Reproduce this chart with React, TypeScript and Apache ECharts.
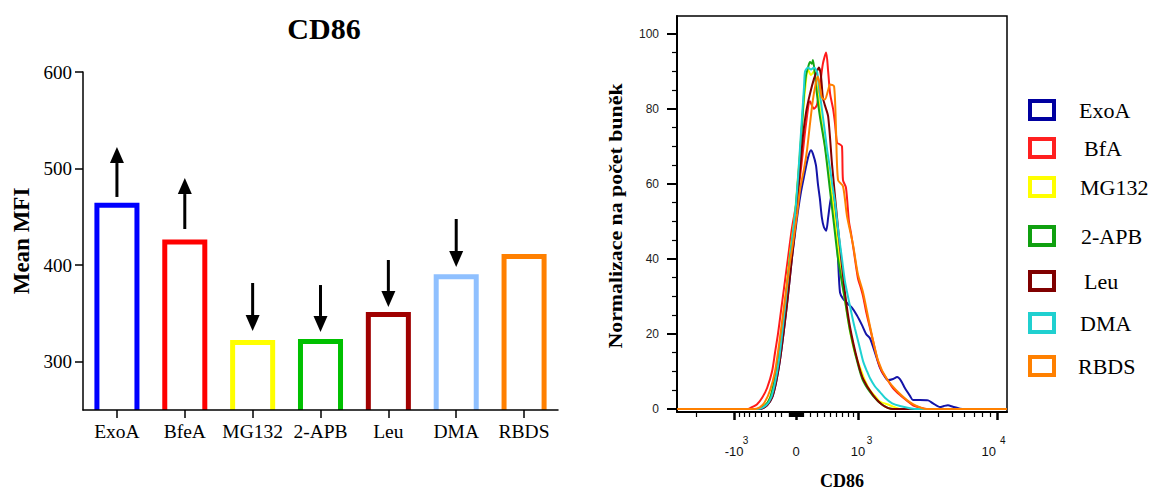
import React, { useEffect, useRef } from "react";
import * as echarts from "echarts";

// ---------- Left panel: Mean MFI of CD86 ----------
const barCategories = ["ExoA", "BfeA", "MG132", "2-APB", "Leu", "DMA", "RBDS"];
const barValues = [462, 424, 320, 321, 349, 388, 409];
const barColors = ["#0000ff", "#ff0000", "#ffff00", "#00c000", "#a00000", "#8fc0ff", "#ff8000"];
const barYMin = 250;
const barYMax = 600;
const barYTicks = [300, 400, 500, 600];
// [category index, arrow start value, arrow tip value]
const arrowData = [
  [0, 470.6, 522.3],
  [1, 437.4, 490.2],
  [2, 381.5, 331.8],
  [3, 379.4, 330.8],
  [4, 405.3, 356.7],
  [5, 447.8, 398.1],
];

// ---------- Right panel: CD86 histograms (x = display channel 0..1000, y = % of max) ----------
const histNames = ["ExoA", "BfA", "MG132", "2-APB", "Leu", "DMA", "RBDS"];
const histColors = ["#1414a8", "#ff1a1a", "#ffff00", "#14a514", "#800000", "#1ed2d2", "#ff8000"];
const legendColors = ["#0000a0", "#ff2020", "#ffff00", "#10a010", "#800000", "#20d0d0", "#ff8000"];

const histExoA = [[0,0],[252,0],[273,1],[288,3],[300,7],[312,13],[324,21],[336,30],[348,40],[358,47],[367,53],[376,58],[385,62],[397,67],[406,69],[412,68],[421,65],[427,60],[433,56],[439,51],[445,48.5],[452,47.5],[458,51],[464,55],[470,57.5],[476,55],[482,50],[488,40],[494,31],[503,29.4],[518,28],[530,27],[545,25],[561,22.3],[573,20],[585,18.8],[600,15],[615,11],[627,9],[639,7.7],[655,8],[667,8.5],[679,7.5],[691,5.5],[706,3.5],[715,2.4],[736,2.4],[761,2.3],[776,1.5],[797,0.5],[809,0.8],[821,1],[836,0.6],[858,0.1],[873,0],[1000,0]];
const histBfA = [[0,0],[215,0],[227,0.5],[242,1.2],[258,3],[273,5.6],[288,10],[297,15],[306,20],[315,26],[324,32],[336,40],[348,48],[358,53],[364,56],[373,62],[382,69],[391,76],[403,82],[415,80],[424,81],[433,86],[442,92],[452,95],[458,90],[464,84],[473,80],[479,76],[485,71],[494,70.5],[500,70],[503,61],[512,59],[521,50],[527,47],[536,42],[548,35],[558,32],[564,30],[573,26],[585,21.5],[597,17],[609,12.7],[621,10],[636,8],[655,5.5],[676,3.7],[697,2.2],[715,1],[736,0.4],[758,0],[1000,0]];
const histMG132 = [[0,0],[242,0],[267,1],[282,3],[294,7],[306,13],[318,22],[330,31],[342,41],[355,50],[364,59],[373,69],[379,76],[388,85],[397,90.5],[406,89],[415,90],[424,86],[433,80],[442,74],[452,68],[461,62],[470,57],[479,50],[488,43],[497,36],[509,29],[524,21],[539,15],[555,11],[570,7.5],[585,5],[600,3.5],[615,2],[645,1],[676,0],[1000,0]];
const hist2APB = [[0,0],[242,0],[267,1],[282,3],[294,7],[306,13],[318,21],[330,30],[342,40],[355,49],[364,58],[373,68],[379,76],[385,84],[391,89],[397,91],[403,92.5],[409,92],[412,93],[418,89],[424,84],[433,78],[448,70],[464,58],[476,49],[488,40],[509,29],[524,21],[548,12],[564,7.5],[594,3.5],[624,1],[655,0],[1000,0]];
const histLeu = [[0,0],[252,0],[273,1],[288,3],[300,7],[312,13],[324,21],[336,30],[348,40],[358,48],[367,58],[373,64],[382,73],[391,79],[403,84],[415,88],[424,90],[430,91],[436,89],[442,83],[448,81],[458,78],[470,65],[485,51],[494,43],[509,31],[524,22],[548,12.5],[564,8],[594,3.7],[624,1],[655,0],[1000,0]];
const histDMA = [[0,0],[245,0],[270,1],[285,3],[297,7],[309,13],[321,22],[333,32],[345,42],[358,52],[367,62],[373,70],[379,78],[385,86],[388,90],[397,91],[406,90.5],[415,91],[424,90],[430,86],[439,80],[448,74],[455,69],[464,64],[470,60],[479,55],[488,48],[500,40],[509,34],[518,30],[530,25],[539,21.5],[552,17],[564,12.7],[576,10],[585,8.2],[600,6],[615,4.5],[630,3],[652,1.5],[676,0.8],[721,0],[1000,0]];
const histRBDS = [[0,0],[236,0],[252,0.5],[267,2],[282,5],[297,10],[309,17],[321,25],[333,33],[342,39],[352,44.5],[364,52],[373,58.6],[385,64],[394,69],[403,76],[412,82.5],[421,87],[427,88.6],[433,86],[439,83],[448,82.5],[458,85],[464,86.5],[476,86],[482,74],[488,61],[503,59.4],[515,51.5],[533,44],[548,36],[564,31],[585,22],[609,13],[636,8],[676,4],[715,1.3],[758,0],[1000,0]];
const histData = [histExoA, histBfA, histMG132, hist2APB, histLeu, histDMA, histRBDS];

const histYMin = -0.8;
const histYMax = 104.75;
const histYMajor = [0, 20, 40, 60, 80, 100];
const histYMinor = [5, 10, 15, 25, 30, 35, 45, 50, 55, 65, 70, 75, 85, 90, 95];
const cd86Major = [-1000, 0, 1000, 10000];
const cd86MajorLabels = ["{s|3}\n{m|-10}", "{s| }\n{m|0}", "{s|3}\n{m|10}", "{s4|4}\n{m4|10}"];
const cd86Minor = [-2000, -900, -800, -700, -600, -500, -400, -300, -200, -100, -90, -80, -70, -60, -50, -40, -30, -20, -10, 10, 20, 30, 40, 50, 60, 70, 80, 90, 100, 200, 300, 400, 500, 600, 700, 800, 900, 2000, 3000, 4000, 5000, 6000, 7000, 8000, 9000];

// biexponential-like display transform: CD86 intensity -> display channel
const toChannel = (v: number) => 360.6 + 196.1 * Math.asinh(v / 900);

const SERIF = "'Liberation Serif', 'Times New Roman', serif";
const SANS = "'Liberation Sans', Arial, sans-serif";

const legendCenters = [112, 150, 189, 238, 283, 325, 368];
const legendTextPad = [20, 25, 21, 22, 25, 21, 19];

export default function App() {
  const ref = useRef<HTMLDivElement>(null);
  useEffect(() => {
    if (!ref.current) return;
    const chart = echarts.init(ref.current, undefined, { renderer: "svg" });
    const majorCh = cd86Major.map(toChannel);
    const minorCh = cd86Minor.map(toChannel);

    const option: any = {
      animation: false,
      backgroundColor: "#fff",
      title: {
        text: "CD86",
        left: 319,
        top: 8,
        textAlign: "center",
        textStyle: { fontFamily: SERIF, fontWeight: "bold", fontSize: 30, color: "#000" },
      },
      grid: [
        { left: 83, right: 596, top: 72, bottom: 85 },
        { left: 677, right: 147, top: 16, bottom: 79, show: true, borderColor: "#000", borderWidth: 1.5, backgroundColor: "transparent" },
      ],
      xAxis: [
        {
          type: "category",
          gridIndex: 0,
          data: barCategories,
          boundaryGap: true,
          axisLine: { show: true, lineStyle: { color: "#000", width: 1.5 } },
          axisTick: { show: true, alignWithLabel: true, length: 8, lineStyle: { color: "#000", width: 1.5 } },
          axisLabel: { interval: 0, hideOverlap: false, fontFamily: SERIF, fontSize: 19.5, color: "#000", margin: 11 },
          splitLine: { show: false },
          z: 5,
        },
        {
          type: "value",
          gridIndex: 1,
          min: 0,
          max: 1000,
          position: "bottom",
          name: "CD86",
          nameLocation: "middle",
          nameGap: 60,
          nameTextStyle: { fontFamily: SERIF, fontWeight: "bold", fontSize: 18, color: "#000" },
          axisLine: { show: true, onZero: false, lineStyle: { color: "#000", width: 2 } },
          axisTick: { show: true, length: 8, customValues: majorCh, lineStyle: { color: "#000", width: 2.5 } },
          axisLabel: {
            show: true,
            margin: 24,
            customValues: majorCh,
            color: "#111",
            fontFamily: SANS,
            formatter: (val: number) => {
              let best = 0;
              for (let i = 1; i < majorCh.length; i++) if (Math.abs(majorCh[i] - val) < Math.abs(majorCh[best] - val)) best = i;
              return cd86MajorLabels[best];
            },
            rich: {
              s: { fontSize: 10, lineHeight: 8, fontFamily: SANS, color: "#111", padding: [0, 0, 0, 23] },
              m: { fontSize: 13, lineHeight: 14, fontFamily: SANS, color: "#111" },
              s4: { fontSize: 10, lineHeight: 8, fontFamily: SANS, color: "#111", padding: [0, 0, 0, 12] },
              m4: { fontSize: 13, lineHeight: 14, fontFamily: SANS, color: "#111", padding: [0, 16, 0, 0] },
            },
          },
          splitLine: { show: false },
        },
        {
          type: "value",
          gridIndex: 1,
          min: 0,
          max: 1000,
          position: "bottom",
          axisLine: { show: false, onZero: false },
          axisTick: { show: true, length: 5, customValues: minorCh, lineStyle: { color: "#000", width: 1.2 } },
          axisLabel: { show: false },
          splitLine: { show: false },
        },
      ],
      yAxis: [
        {
          type: "value",
          gridIndex: 0,
          min: barYMin,
          max: barYMax,
          name: "Mean MFI",
          nameLocation: "middle",
          nameGap: 50,
          nameRotate: 90,
          nameTextStyle: { fontFamily: SERIF, fontWeight: "bold", fontSize: 23, color: "#000" },
          axisLine: { show: true, lineStyle: { color: "#000", width: 1.5 } },
          axisTick: { show: true, length: 8, customValues: barYTicks, lineStyle: { color: "#000", width: 1.5 } },
          axisLabel: { customValues: barYTicks, fontFamily: SERIF, fontSize: 19, color: "#000", margin: 11 },
          splitLine: { show: false },
        },
        {
          type: "value",
          gridIndex: 1,
          min: histYMin,
          max: histYMax,
          position: "left",
          axisLine: { show: true, onZero: false, lineStyle: { color: "#000", width: 2 } },
          axisTick: { show: true, length: 10, customValues: histYMajor, lineStyle: { color: "#000", width: 2 } },
          axisLabel: { customValues: histYMajor, fontFamily: SANS, fontSize: 12, color: "#222", margin: 18 },
          splitLine: { show: false },
        },
        {
          type: "value",
          gridIndex: 1,
          min: histYMin,
          max: histYMax,
          position: "left",
          axisLine: { show: false, onZero: false },
          axisTick: { show: true, length: 5, customValues: histYMinor, lineStyle: { color: "#000", width: 1.2 } },
          axisLabel: { show: false },
          splitLine: { show: false },
        },
      ],
      legend: histNames.map((n, i) => ({
        data: [n],
        left: 1028,
        top: legendCenters[i] - 13,
        padding: 0,
        icon: "rect",
        itemWidth: 24,
        itemHeight: 18,
        selectedMode: false,
        itemStyle: { color: "#fff", borderColor: legendColors[i], borderWidth: 4 },
        formatter: "{t|{name}}",
        textStyle: {
          rich: { t: { fontFamily: SERIF, fontSize: 22, color: "#000", padding: [0, 0, 0, legendTextPad[i]] } },
        },
      })),
      graphic: [
        {
          type: "text",
          x: 616,
          y: 216,
          rotation: Math.PI / 2,
          scaleX: 1.15,
          style: {
            text: "Normalizace na počet buněk",
            font: `bold 19px ${SERIF}`,
            fill: "#000",
            align: "center",
            verticalAlign: "middle",
          },
        },
      ],
      series: [
        {
          type: "custom",
          name: "Mean MFI",
          xAxisIndex: 0,
          yAxisIndex: 0,
          encode: { x: 0, y: 1 },
          data: barValues.map((v, i) => ({ value: [i, v], itemStyle: { color: barColors[i] } })),
          renderItem: (params: any, api: any) => {
            const i = api.value(0);
            const v = api.value(1);
            const top = api.coord([i, v]);
            const base = api.coord([i, barYMin]);
            const w = api.size([1, 0])[0] * 0.59;
            return {
              type: "polyline",
              shape: {
                points: [
                  [top[0] - w / 2, base[1]],
                  [top[0] - w / 2, top[1]],
                  [top[0] + w / 2, top[1]],
                  [top[0] + w / 2, base[1]],
                ],
              },
              style: { fill: "none", stroke: api.visual("color"), lineWidth: 5, lineJoin: "miter" },
            };
          },
          z: 2,
        },
        {
          type: "custom",
          name: "arrows",
          xAxisIndex: 0,
          yAxisIndex: 0,
          encode: { x: 0, y: [1, 2] },
          data: arrowData,
          renderItem: (params: any, api: any) => {
            const i = api.value(0);
            const p0 = api.coord([i, api.value(1)]);
            const p1 = api.coord([i, api.value(2)]);
            const dir = p1[1] < p0[1] ? -1 : 1;
            const headL = 16;
            const headW = 7;
            const hb = p1[1] - dir * headL;
            return {
              type: "group",
              children: [
                { type: "line", shape: { x1: p0[0], y1: p0[1], x2: p0[0], y2: hb }, style: { stroke: "#000", lineWidth: 3 } },
                { type: "polygon", shape: { points: [[p1[0], p1[1]], [p1[0] - headW, hb], [p1[0] + headW, hb]] }, style: { fill: "#000" } },
              ],
            };
          },
          z: 3,
        },
        ...histNames.map((n, i) => ({
          type: "line",
          name: n,
          xAxisIndex: 1,
          yAxisIndex: 1,
          data: histData[i],
          showSymbol: false,
          symbol: "none",
          smooth: 0.25,
          lineStyle: { color: histColors[i], width: 2 },
          itemStyle: { color: histColors[i] },
          z: 3 + i,
        })),
      ],
    };
    chart.setOption(option);
    return () => chart.dispose();
  }, []);
  return <div ref={ref} style={{ width: 1154, height: 495, position: "absolute", left: 0, top: 0 }} />;
}
